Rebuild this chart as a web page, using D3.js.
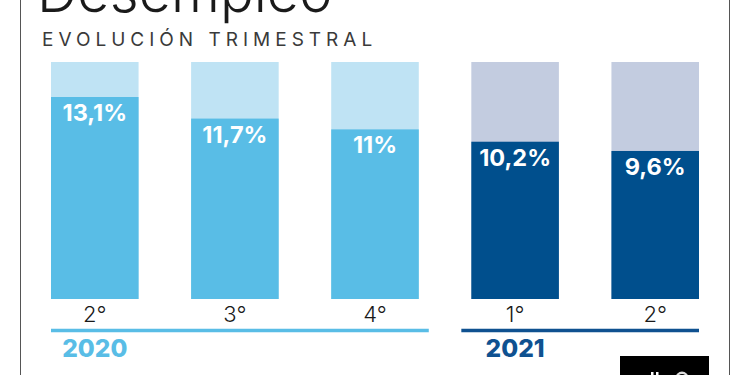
<!DOCTYPE html>
<html>
<head>
<meta charset="utf-8">
<script src="https://cdn.jsdelivr.net/npm/d3@7"></script>
<style>
  body { margin: 0; background: #fff; }
  svg { display: block; font-family: Inter, "Open Sans", sans-serif; }
</style>
</head>
<body>
<svg id="chart"></svg>
<script>
const quarters = ['2º-2020', '3º-2020', '4º-2020', '1º-2021', '2º-2021'];
const tickLabels = ['2°', '3°', '4°', '1°', '2°'];
const values = [13.1, 11.7, 11, 10.2, 9.6];
const valueLabels = ['13,1%', '11,7%', '11%', '10,2%', '9,6%'];
const barYears = ['2020', '2020', '2020', '2021', '2021'];
const years = ['2020', '2021'];
const trackMax = 15.37;

const width = 750, height = 375;

const svg = d3.select('#chart')
    .attr('width', width)
    .attr('height', height);

const xScale = d3.scaleBand()
    .domain(quarters)
    .range([51, 699])
    .paddingInner(0.375);

const yScale = d3.scaleLinear()
    .domain([0, trackMax])
    .range([299, 62]);

const solid = d3.scaleOrdinal().domain(years).range(['#59bde6', '#004f8d']);
const pale = d3.scaleOrdinal().domain(years).range(['#bfe3f4', '#c3cce0']);
const yearColor = d3.scaleOrdinal().domain(years).range(['#59bde6', '#0f5190']);

// Frame lines at the sides of the picture
svg.selectAll('.frame')
    .data([20.5, 729.5])
  .join('line')
    .attr('class', 'frame')
    .attr('x1', d => d).attr('x2', d => d)
    .attr('y1', 0).attr('y2', height)
    .attr('stroke', '#555')
    .attr('stroke-width', 1);

// Title, cropped by the top edge
svg.append('text')
    .attr('x', 37)
    .attr('y', 12)
    .attr('font-size', 56)
    .attr('font-weight', 300)
    .attr('fill', '#1a1a1a')
    .text('Desempleo');

svg.append('text')
    .attr('x', 42)
    .attr('y', 46)
    .attr('font-size', 19)
    .attr('font-weight', 400)
    .attr('letter-spacing', 5)
    .attr('fill', '#3a3a3a')
    .text('EVOLUCIÓN TRIMESTRAL');

// Background tracks
svg.selectAll('.track')
    .data(quarters)
  .join('rect')
    .attr('class', 'track')
    .attr('x', d => xScale(d))
    .attr('y', yScale(trackMax))
    .attr('width', xScale.bandwidth())
    .attr('height', yScale(0) - yScale(trackMax))
    .attr('fill', (d, i) => pale(barYears[i]));

// Value bars
svg.selectAll('.bar')
    .data(quarters)
  .join('rect')
    .attr('class', 'bar')
    .attr('x', d => xScale(d))
    .attr('y', (d, i) => yScale(values[i]))
    .attr('width', xScale.bandwidth())
    .attr('height', (d, i) => yScale(0) - yScale(values[i]))
    .attr('fill', (d, i) => solid(barYears[i]));

svg.selectAll('.bar-label')
    .data(quarters)
  .join('text')
    .attr('class', 'bar-label')
    .attr('x', d => xScale(d) + xScale.bandwidth() / 2)
    .attr('y', (d, i) => yScale(values[i]) + 24)
    .attr('text-anchor', 'middle')
    .attr('font-size', 23.5)
    .attr('font-weight', 700)
    .attr('fill', '#fff')
    .text((d, i) => valueLabels[i]);

// Quarter labels through a bottom axis
const xAxis = d3.axisBottom(xScale)
    .tickSize(0)
    .tickPadding(7)
    .tickFormat((d, i) => tickLabels[i]);

const xAxisG = svg.append('g')
    .attr('class', 'axis x-axis')
    .attr('transform', 'translate(0,299)')
    .call(xAxis);

xAxisG.select('.domain').remove();
xAxisG.selectAll('text')
    .attr('font-family', 'Inter, "Open Sans", sans-serif')
    .attr('font-size', 22)
    .attr('font-weight', 300)
    .attr('fill', '#1a1a1a');

// Year brackets
const firstOf = y => quarters[barYears.indexOf(y)];
const lastOf = y => quarters[barYears.lastIndexOf(y)];
const ruleStart = y => y === '2020' ? xScale(firstOf(y)) : xScale(firstOf(y)) - 10;
const ruleEnd = y => y === '2020'
    ? xScale(lastOf(y)) + xScale.bandwidth() + 10
    : xScale(lastOf(y)) + xScale.bandwidth();

svg.selectAll('.year-rule')
    .data(years)
  .join('line')
    .attr('class', 'year-rule')
    .attr('x1', ruleStart)
    .attr('x2', ruleEnd)
    .attr('y1', 330.5)
    .attr('y2', 330.5)
    .attr('stroke', yearColor)
    .attr('stroke-width', 3.5);

svg.selectAll('.year-label')
    .data(years)
  .join('text')
    .attr('class', 'year-label')
    .attr('x', d => xScale(firstOf(d)) + xScale.bandwidth() / 2)
    .attr('y', 357)
    .attr('text-anchor', 'middle')
    .attr('font-size', 24.5)
    .attr('font-weight', 800)
    .attr('fill', yearColor)
    .text(d => d);

// Logo box, bottom right, with the top of its white mark showing
svg.append('rect')
    .attr('x', 620)
    .attr('y', 356)
    .attr('width', 89)
    .attr('height', 19)
    .attr('fill', '#000');

svg.selectAll('.logo-tick')
    .data([651, 656])
  .join('rect')
    .attr('class', 'logo-tick')
    .attr('x', d => d)
    .attr('y', 372)
    .attr('width', 2.5)
    .attr('height', 3)
    .attr('fill', '#fff');

svg.append('path')
    .attr('transform', 'translate(682,378)')
    .attr('d', d3.arc()({innerRadius: 4, outerRadius: 6.5, startAngle: -Math.PI / 2, endAngle: Math.PI / 2}))
    .attr('fill', '#ddd');
</script>
</body>
</html>
